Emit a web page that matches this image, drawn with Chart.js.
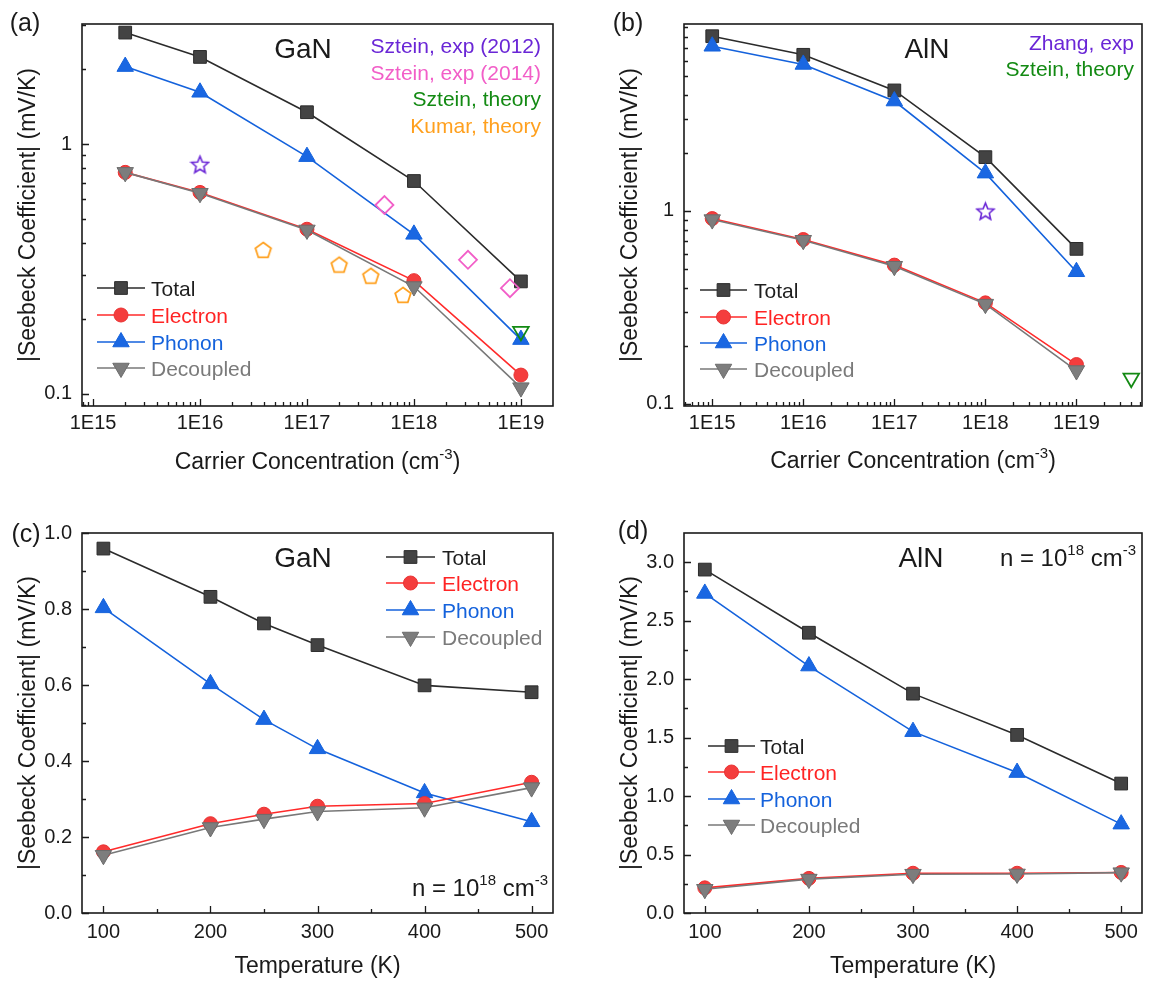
<!DOCTYPE html>
<html>
<head>
<meta charset="utf-8">
<title>Seebeck coefficient of GaN and AlN</title>
<script src="https://cdn.jsdelivr.net/npm/chart.js@4/dist/chart.umd.min.js"></script>
<style>
  html, body { margin: 0; padding: 0; background: #ffffff; }
  #figure { position: relative; width: 1159px; height: 986px; overflow: hidden; }
  #figure canvas { position: absolute; }
</style>
</head>
<body>
<div id="figure">
  <canvas id="panelA" width="580" height="490" style="left:0px;top:0px"></canvas>
  <canvas id="panelB" width="579" height="490" style="left:580px;top:0px"></canvas>
  <canvas id="panelC" width="580" height="496" style="left:0px;top:490px"></canvas>
  <canvas id="panelD" width="579" height="496" style="left:580px;top:490px"></canvas>
</div>
<script>
// ---------- (a) GaN, |S| versus carrier concentration (mV/K) ----------
const GAN_CONC = [2e15, 1e16, 1e17, 1e18, 1e19];
const GAN_TOTAL_N = [2.79, 2.23, 1.34, 0.711, 0.282];
const GAN_ELECTRON_N = [0.77, 0.64, 0.456, 0.284, 0.119];
const GAN_PHONON_N = [2.04, 1.61, 0.89, 0.435, 0.165];
const GAN_DECOUPLED_N = [0.77, 0.635, 0.453, 0.269, 0.106];
const GAN_SZTEIN2012_CONC = [1e16];
const GAN_SZTEIN2012_S = [0.83];
const GAN_SZTEIN2014_CONC = [5.3e17, 3.2e18, 7.9e18];
const GAN_SZTEIN2014_S = [0.57, 0.344, 0.265];
const GAN_SZTEIN_TH_CONC = [1e19];
const GAN_SZTEIN_TH_S = [0.178];
const GAN_KUMAR_CONC = [3.9e16, 2.0e17, 3.95e17, 7.9e17];
const GAN_KUMAR_S = [0.377, 0.329, 0.297, 0.249];

// ---------- (b) AlN, |S| versus carrier concentration (mV/K) ----------
const ALN_CONC = [1e15, 1e16, 1e17, 1e18, 1e19];
const ALN_TOTAL_N = [8.04, 6.44, 4.21, 1.90, 0.636];
const ALN_ELECTRON_N = [0.913, 0.711, 0.524, 0.334, 0.160];
const ALN_PHONON_N = [7.13, 5.74, 3.71, 1.57, 0.484];
const ALN_DECOUPLED_N = [0.902, 0.705, 0.517, 0.329, 0.149];
const ALN_ZHANG_CONC = [1e18];
const ALN_ZHANG_S = [1.0];
const ALN_SZTEIN_TH_CONC = [4.0e19];
const ALN_SZTEIN_TH_S = [0.136];

// ---------- (c) GaN, |S| versus temperature at n = 1e18 cm^-3 ----------
const GAN_TEMP = [100, 200, 250, 300, 400, 500];
const GAN_TOTAL_T = [0.959, 0.832, 0.762, 0.705, 0.599, 0.581];
const GAN_ELECTRON_T = [0.161, 0.235, 0.260, 0.281, 0.288, 0.344];
const GAN_PHONON_T = [0.803, 0.603, 0.509, 0.432, 0.316, 0.240];
const GAN_DECOUPLED_T = [0.152, 0.225, 0.247, 0.267, 0.277, 0.330];

// ---------- (d) AlN, |S| versus temperature at n = 1e18 cm^-3 ----------
const ALN_TEMP = [100, 200, 300, 400, 500];
const ALN_TOTAL_T = [2.937, 2.397, 1.876, 1.523, 1.107];
const ALN_ELECTRON_T = [0.215, 0.296, 0.340, 0.340, 0.347];
const ALN_PHONON_T = [2.733, 2.112, 1.551, 1.201, 0.760];
const ALN_DECOUPLED_T = [0.203, 0.290, 0.332, 0.334, 0.345];

// ---------- tick values and labels ----------
const CONC_TICKS = [1e15, 1e16, 1e17, 1e18, 1e19];
const CONC_TICK_LABELS = ['1E15', '1E16', '1E17', '1E18', '1E19'];
const LOG_S_TICKS = [0.1, 1];
const LOG_S_TICK_LABELS = ['0.1', '1'];
const TEMP_TICKS = [100, 200, 300, 400, 500];
const TEMP_TICK_LABELS = ['100', '200', '300', '400', '500'];
const TEMP_MINOR = [150, 250, 350, 450];
const GAN_T_S_TICKS = [0, 0.2, 0.4, 0.6, 0.8, 1.0];
const GAN_T_S_TICK_LABELS = ['0.0', '0.2', '0.4', '0.6', '0.8', '1.0'];
const GAN_T_S_MINOR = [0.1, 0.3, 0.5, 0.7, 0.9];
const ALN_T_S_TICKS = [0, 0.5, 1.0, 1.5, 2.0, 2.5, 3.0];
const ALN_T_S_TICK_LABELS = ['0.0', '0.5', '1.0', '1.5', '2.0', '2.5', '3.0'];
const ALN_T_S_MINOR = [0.25, 0.75, 1.25, 1.75, 2.25, 2.75];

// ---------- styling ----------
const FONT = "'Liberation Sans', Arial, Helvetica, sans-serif";
const INK = '#1a1a1a';
Chart.defaults.font.family = FONT;
Chart.defaults.color = INK;
Chart.defaults.animation = false;

const SERIES = {
  total:     { label: 'Total',     line: '#2b2b2b', fill: '#434343', edge: '#2b2b2b', shape: 'rect',     r: 9,   rot: 0,   text: '#1e1e1e' },
  electron:  { label: 'Electron',  line: '#ff2a2a', fill: '#f43d3d', edge: '#e83232', shape: 'circle',   r: 7,   rot: 0,   text: '#ff2424' },
  phonon:    { label: 'Phonon',    line: '#1462dc', fill: '#1a67e2', edge: '#1462dc', shape: 'triangle', r: 9.5, rot: 0,   text: '#1462dc' },
  decoupled: { label: 'Decoupled', line: '#787878', fill: '#7d7d7d', edge: '#6c6c6c', shape: 'triangle', r: 9.5, rot: 180, text: '#7a7a7a' }
};
const REF_COLORS = { purple: '#6a26d6', pink: '#f25ec8', green: '#138a13', orange: '#ffa01e' };

// open marker glyphs (five-point star, pentagon) rendered once
function outlineGlyph(kind, size, color, lw) {
  const c = document.createElement('canvas');
  c.width = size; c.height = size;
  const g = c.getContext('2d');
  g.strokeStyle = color; g.lineWidth = lw; g.lineJoin = 'miter';
  const cx = size / 2, cy = size / 2 + (kind === 'star' ? 1 : 0.8), R = size / 2 - lw;
  g.beginPath();
  const n = kind === 'star' ? 10 : 5;
  for (let i = 0; i < n; i++) {
    const rr = kind === 'star' ? (i % 2 ? R * 0.45 : R) : R;
    const ang = -Math.PI / 2 + i * 2 * Math.PI / n;
    const px = cx + rr * Math.cos(ang), py = cy + rr * Math.sin(ang);
    if (i === 0) g.moveTo(px, py); else g.lineTo(px, py);
  }
  g.closePath(); g.stroke();
  return c;
}
const STAR_GLYPH = outlineGlyph('star', 21, REF_COLORS.purple, 1.6);
const PENTAGON_GLYPH = outlineGlyph('pentagon', 20, REF_COLORS.orange, 1.8);

const pts = (xs, ys) => xs.map((x, i) => ({ x: x, y: ys[i] }));

function seriesSet(key, xs, ys, order) {
  const s = SERIES[key];
  return {
    label: s.label, data: pts(xs, ys), showLine: true, order: order, clip: false,
    borderColor: s.line, borderWidth: 1.6, backgroundColor: s.fill,
    pointStyle: s.shape, pointRadius: s.r, pointHoverRadius: s.r, pointRotation: s.rot,
    pointBackgroundColor: s.fill, pointBorderColor: s.edge, pointBorderWidth: 1
  };
}
function refSet(label, xs, ys, style, color, radius, rot) {
  return {
    label: label, data: pts(xs, ys), showLine: false, order: 0, clip: false,
    pointStyle: style, pointRadius: radius, pointHoverRadius: radius, pointRotation: rot || 0,
    pointBackgroundColor: 'rgba(0,0,0,0)', backgroundColor: 'rgba(0,0,0,0)',
    pointBorderColor: color, borderColor: color, pointBorderWidth: 1.8
  };
}

// minor ticks of a log axis: k * 10^n, k = 2..9, inside [lo, hi]
function logMinor(lo, hi) {
  const out = [];
  for (let e = Math.floor(Math.log10(lo)) - 1; e <= Math.ceil(Math.log10(hi)); e++) {
    for (let k = 2; k <= 9; k++) {
      const v = k * Math.pow(10, e);
      if (v > lo * 1.0001 && v < hi * 0.9999) out.push(v);
    }
  }
  return out;
}

// text with superscript runs; y is the visual middle of the capitals
function drawRich(ctx, parts, x, y, align, size, color) {
  const supSize = Math.round(size * 0.64);
  let w = 0;
  parts.forEach(p => {
    ctx.font = (p.sup ? supSize : size) + 'px ' + FONT;
    p.w = ctx.measureText(p.t).width; w += p.w;
  });
  let cx = align === 'center' ? x - w / 2 : (align === 'right' ? x - w : x);
  const base = y + size * 0.358;
  ctx.fillStyle = color; ctx.textAlign = 'left'; ctx.textBaseline = 'alphabetic';
  parts.forEach(p => {
    ctx.font = (p.sup ? supSize : size) + 'px ' + FONT;
    ctx.fillText(p.t, cx, p.sup ? base - size * 0.43 : base);
    cx += p.w;
  });
}

function drawMarker(ctx, s, x, y) {
  ctx.save();
  ctx.fillStyle = s.fill; ctx.strokeStyle = s.edge; ctx.lineWidth = 1;
  Chart.helpers.drawPoint(ctx, { pointStyle: s.shape, radius: s.r, rotation: s.rot, borderWidth: 1 }, x, y);
  ctx.restore();
}

// frame, inward ticks, legend and labels
const panelDecor = {
  id: 'panelDecor',
  afterDraw(chart, args, o) {
    const ctx = chart.ctx, a = chart.chartArea;
    const xs = chart.scales.x, ys = chart.scales.y;
    ctx.save();
    ctx.strokeStyle = INK;
    ctx.lineWidth = 1.3;
    ctx.beginPath();
    o.xMajor.forEach(v => { const p = Math.round(xs.getPixelForValue(v)) + 0.5; ctx.moveTo(p, a.bottom); ctx.lineTo(p, a.bottom - 7); });
    o.xMinor.forEach(v => { const p = Math.round(xs.getPixelForValue(v)) + 0.5; ctx.moveTo(p, a.bottom); ctx.lineTo(p, a.bottom - 4); });
    o.yMajor.forEach(v => { const p = Math.round(ys.getPixelForValue(v)) + 0.5; ctx.moveTo(a.left, p); ctx.lineTo(a.left + 7, p); });
    o.yMinor.forEach(v => { const p = Math.round(ys.getPixelForValue(v)) + 0.5; ctx.moveTo(a.left, p); ctx.lineTo(a.left + 4, p); });
    ctx.stroke();
    ctx.lineWidth = 1.6;
    ctx.strokeRect(a.left, a.top, a.right - a.left, a.bottom - a.top);

    const ox = o.origin[0], oy = o.origin[1];
    // series key
    const L = o.legend;
    L.rows.forEach((key, i) => {
      const s = SERIES[key];
      const y = L.ys[i] - oy;
      ctx.strokeStyle = s.line; ctx.lineWidth = 1.6;
      ctx.beginPath(); ctx.moveTo(L.x1 - ox, y); ctx.lineTo(L.x2 - ox, y); ctx.stroke();
      drawMarker(ctx, s, (L.x1 + L.x2) / 2 - ox, y);
      drawRich(ctx, [{ t: s.label }], L.xt - ox, y, 'left', L.size, s.text);
    });
    // labels
    o.texts.forEach(t => drawRich(ctx, t.parts, t.at[0] - ox, t.at[1] - oy, t.align, t.size, t.color || INK));
    ctx.restore();
  }
};

function buildPanel(id, geom, ax, datasets, decor) {
  const { W, H, L, T, R, B } = geom;
  decor.origin = [geom.ox, geom.oy];
  return new Chart(document.getElementById(id), {
    type: 'scatter',
    data: { datasets: datasets },
    plugins: [panelDecor],
    options: {
      responsive: false, devicePixelRatio: 1, animation: false,
      layout: { padding: { left: 0, top: T, right: W - R, bottom: 0 } },
      plugins: { legend: { display: false }, tooltip: { enabled: false }, panelDecor: decor },
      scales: {
        x: {
          type: ax.xType, position: 'bottom', min: ax.xMin, max: ax.xMax,
          afterBuildTicks: s => { s.ticks = ax.xTicks.map(v => ({ value: v })); },
          afterFit: s => { s.height = H - B; },
          ticks: { callback: (v, i) => ax.xLabels[i], autoSkip: false, maxRotation: 0, minRotation: 0,
                   padding: ax.xPad, font: { size: 20 }, color: INK },
          grid: { display: false, drawTicks: false }, border: { display: false },
          title: ax.xTitle ? { display: true, text: ax.xTitle, font: { size: 23 }, color: INK,
                               padding: { top: 0, bottom: ax.xTitlePad } } : { display: false }
        },
        y: {
          type: ax.yType, position: 'left', min: ax.yMin, max: ax.yMax,
          afterBuildTicks: s => { s.ticks = ax.yTicks.map(v => ({ value: v })); },
          afterFit: s => { s.width = L; },
          ticks: { callback: (v, i) => ax.yLabels[i], autoSkip: false, padding: 10, font: { size: 20 }, color: INK },
          grid: { display: false, drawTicks: false }, border: { display: false },
          title: { display: true, text: '|Seebeck Coefficient| (mV/K)', font: { size: 23 }, color: INK,
                   padding: { top: ax.yTitlePad, bottom: 0 } }
        }
      }
    }
  });
}

// canvas placement and plot-area box (canvas pixels) of each panel
const GEOM = {
  a: { ox: 0,   oy: 0,   W: 580, H: 490, L: 82,  T: 24, R: 553, B: 406 },
  b: { ox: 580, oy: 0,   W: 579, H: 490, L: 104, T: 24, R: 562, B: 406 },
  c: { ox: 0,   oy: 490, W: 580, H: 496, L: 82,  T: 43, R: 553, B: 423 },
  d: { ox: 580, oy: 490, W: 579, H: 496, L: 104, T: 43, R: 562, B: 423 }
};

const CONC_TITLE = [{ t: 'Carrier Concentration (cm' }, { t: '-3', sup: true }, { t: ')' }];
const N_LABEL = [{ t: 'n = 10' }, { t: '18', sup: true }, { t: ' cm' }, { t: '-3', sup: true }];
const KEY_ROWS = ['total', 'electron', 'phonon', 'decoupled'];

// (a)
{
  const xMin = Math.pow(10, 14.897), xMax = Math.pow(10, 19.30), yMin = 0.0895, yMax = 3.02;
  buildPanel('panelA', GEOM.a,
    { xType: 'logarithmic', xMin, xMax, xTicks: CONC_TICKS, xLabels: CONC_TICK_LABELS, xPad: 5,
      yType: 'logarithmic', yMin, yMax, yTicks: LOG_S_TICKS, yLabels: LOG_S_TICK_LABELS, yTitlePad: 14.7 },
    [
      refSet('Sztein, exp (2012)', GAN_SZTEIN2012_CONC, GAN_SZTEIN2012_S, STAR_GLYPH, REF_COLORS.purple, 10),
      refSet('Sztein, exp (2014)', GAN_SZTEIN2014_CONC, GAN_SZTEIN2014_S, 'rectRot', REF_COLORS.pink, 9),
      refSet('Sztein, theory', GAN_SZTEIN_TH_CONC, GAN_SZTEIN_TH_S, 'triangle', REF_COLORS.green, 9, 180),
      refSet('Kumar, theory', GAN_KUMAR_CONC, GAN_KUMAR_S, PENTAGON_GLYPH, REF_COLORS.orange, 10),
      seriesSet('decoupled', GAN_CONC, GAN_DECOUPLED_N, 1),
      seriesSet('electron', GAN_CONC, GAN_ELECTRON_N, 2),
      seriesSet('phonon', GAN_CONC, GAN_PHONON_N, 3),
      seriesSet('total', GAN_CONC, GAN_TOTAL_N, 4)
    ],
    { xMajor: CONC_TICKS, xMinor: logMinor(xMin, xMax), yMajor: LOG_S_TICKS, yMinor: logMinor(yMin, yMax),
      legend: { rows: KEY_ROWS, x1: 97, x2: 145, xt: 151, ys: [288, 315, 342, 368], size: 21 },
      texts: [
        { parts: [{ t: '(a)' }], at: [25, 22], align: 'center', size: 25 },
        { parts: [{ t: 'GaN' }], at: [303, 48], align: 'center', size: 28 },
        { parts: [{ t: 'Sztein, exp (2012)' }], at: [541, 45], align: 'right', size: 21, color: REF_COLORS.purple },
        { parts: [{ t: 'Sztein, exp (2014)' }], at: [541, 72], align: 'right', size: 21, color: REF_COLORS.pink },
        { parts: [{ t: 'Sztein, theory' }], at: [541, 98], align: 'right', size: 21, color: REF_COLORS.green },
        { parts: [{ t: 'Kumar, theory' }], at: [541, 125], align: 'right', size: 21, color: REF_COLORS.orange },
        { parts: CONC_TITLE, at: [317.5, 461], align: 'center', size: 23 }
      ] });
}

// (b)
{
  const xMin = Math.pow(10, 14.69), xMax = Math.pow(10, 19.72), yMin = 0.0976, yMax = 9.3;
  buildPanel('panelB', GEOM.b,
    { xType: 'logarithmic', xMin, xMax, xTicks: CONC_TICKS, xLabels: CONC_TICK_LABELS, xPad: 5,
      yType: 'logarithmic', yMin, yMax, yTicks: LOG_S_TICKS, yLabels: LOG_S_TICK_LABELS, yTitlePad: 37.2 },
    [
      refSet('Zhang, exp', ALN_ZHANG_CONC, ALN_ZHANG_S, STAR_GLYPH, REF_COLORS.purple, 10),
      refSet('Sztein, theory', ALN_SZTEIN_TH_CONC, ALN_SZTEIN_TH_S, 'triangle', REF_COLORS.green, 9, 180),
      seriesSet('decoupled', ALN_CONC, ALN_DECOUPLED_N, 1),
      seriesSet('electron', ALN_CONC, ALN_ELECTRON_N, 2),
      seriesSet('phonon', ALN_CONC, ALN_PHONON_N, 3),
      seriesSet('total', ALN_CONC, ALN_TOTAL_N, 4)
    ],
    { xMajor: CONC_TICKS, xMinor: logMinor(xMin, xMax), yMajor: LOG_S_TICKS, yMinor: logMinor(yMin, yMax),
      legend: { rows: KEY_ROWS, x1: 700, x2: 747, xt: 754, ys: [290, 317, 343, 369], size: 21 },
      texts: [
        { parts: [{ t: '(b)' }], at: [628, 22], align: 'center', size: 25 },
        { parts: [{ t: 'AlN' }], at: [927, 48], align: 'center', size: 28 },
        { parts: [{ t: 'Zhang, exp' }], at: [1134, 42], align: 'right', size: 21, color: REF_COLORS.purple },
        { parts: [{ t: 'Sztein, theory' }], at: [1134, 68], align: 'right', size: 21, color: REF_COLORS.green },
        { parts: CONC_TITLE, at: [913, 460], align: 'center', size: 23 }
      ] });
}

// (c)
buildPanel('panelC', GEOM.c,
  { xType: 'linear', xMin: 80, xMax: 520, xTicks: TEMP_TICKS, xLabels: TEMP_TICK_LABELS, xPad: 7,
    xTitle: 'Temperature (K)', xTitlePad: 6,
    yType: 'linear', yMin: 0, yMax: 1.0, yTicks: GAN_T_S_TICKS, yLabels: GAN_T_S_TICK_LABELS, yTitlePad: 14.7 },
  [
    seriesSet('decoupled', GAN_TEMP, GAN_DECOUPLED_T, 1),
    seriesSet('electron', GAN_TEMP, GAN_ELECTRON_T, 2),
    seriesSet('phonon', GAN_TEMP, GAN_PHONON_T, 3),
    seriesSet('total', GAN_TEMP, GAN_TOTAL_T, 4)
  ],
  { xMajor: TEMP_TICKS, xMinor: TEMP_MINOR, yMajor: GAN_T_S_TICKS, yMinor: GAN_T_S_MINOR,
    legend: { rows: KEY_ROWS, x1: 386, x2: 435, xt: 442, ys: [557, 583, 610, 637], size: 21 },
    texts: [
      { parts: [{ t: '(c)' }], at: [26, 533], align: 'center', size: 25 },
      { parts: [{ t: 'GaN' }], at: [303, 557], align: 'center', size: 28 },
      { parts: N_LABEL, at: [548, 887], align: 'right', size: 24 }
    ] });

// (d)
buildPanel('panelD', GEOM.d,
  { xType: 'linear', xMin: 80, xMax: 520, xTicks: TEMP_TICKS, xLabels: TEMP_TICK_LABELS, xPad: 7,
    xTitle: 'Temperature (K)', xTitlePad: 6,
    yType: 'linear', yMin: 0, yMax: 3.25, yTicks: ALN_T_S_TICKS, yLabels: ALN_T_S_TICK_LABELS, yTitlePad: 37.2 },
  [
    seriesSet('decoupled', ALN_TEMP, ALN_DECOUPLED_T, 1),
    seriesSet('electron', ALN_TEMP, ALN_ELECTRON_T, 2),
    seriesSet('phonon', ALN_TEMP, ALN_PHONON_T, 3),
    seriesSet('total', ALN_TEMP, ALN_TOTAL_T, 4)
  ],
  { xMajor: TEMP_TICKS, xMinor: TEMP_MINOR, yMajor: ALN_T_S_TICKS, yMinor: ALN_T_S_MINOR,
    legend: { rows: KEY_ROWS, x1: 708, x2: 755, xt: 760, ys: [746, 772, 799, 825], size: 21 },
    texts: [
      { parts: [{ t: '(d)' }], at: [633, 530], align: 'center', size: 25 },
      { parts: [{ t: 'AlN' }], at: [921, 557], align: 'center', size: 28 },
      { parts: N_LABEL, at: [1136, 557], align: 'right', size: 24 }
    ] });
</script>
</body>
</html>
